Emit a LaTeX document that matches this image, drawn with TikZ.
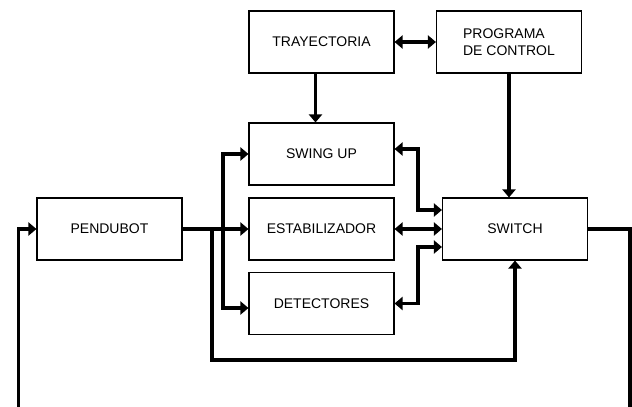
\documentclass[tikz,border=0pt]{standalone}
\usepackage{fontspec}
\setmainfont{Liberation Sans}
\usetikzlibrary{arrows.meta}

\tikzset{
  blk/.style={draw, line width=1.1pt, minimum width=145pt, minimum height=62pt,
    inner sep=0pt, font=\fontsize{14}{17}\selectfont},
  conn/.style={line width=3.2pt},
  tip/.tip={Triangle[length=8pt,width=13pt]},
}

\begin{document}
\begin{tikzpicture}[x=1pt, y=-1pt]
  \useasboundingbox (0,0) rectangle (632,407);

  % blocks
  \node[blk] (pend)   at (109.5,229)  {PENDUBOT};
  \node[blk] (tray)   at (321.5,42)   {TRAYECTORIA};
  \node[blk, align=left] (prog) at (509,42) {PROGRAMA\\DE CONTROL};
  \node[blk] (swing)  at (321.5,154)  {SWING UP\hspace{18pt}};
  \node[blk] (estab)  at (321.5,229)  {ESTABILIZADOR};
  \node[blk] (det)    at (321.5,303.5) {DETECTORES};
  \node[blk] (switch) at (515,229)    {SWITCH};

  % branch points, bus lines and switch inputs
  \coordinate (b1)   at (212,229);
  \coordinate (b2)   at (223,229);
  \coordinate (bus)  at (418,0);
  \coordinate (low)  at (0,360);
  \coordinate (lEnd) at (18.5,407);
  \coordinate (rEnd) at (630,407);
  \coordinate (swIn1) at ([yshift=19pt]switch.west);
  \coordinate (swIn3) at ([yshift=-18pt]switch.west);

  % signal paths
  \draw[conn, -tip] (pend.east) -- (estab.west);
  \draw[conn, -tip] (b1) -- (b1 |- low) -| (switch.south);
  \draw[conn, -tip] (b2) |- (swing.west);
  \draw[conn, -tip] (b2) |- ([yshift=-4.5pt]det.west);
  \draw[conn, -tip] ([xshift=-6pt]tray.south) -- ([xshift=-6pt]swing.north);
  \draw[conn, tip-tip] (tray.east) -- (prog.west);
  \draw[conn, -tip] (prog.south) -- (prog.south |- switch.north);
  \draw[conn, tip-tip] ([yshift=5pt]swing.east) -| (bus |- swIn1) -- (swIn1);
  \draw[conn, tip-tip] (estab.east) -- (switch.west);
  \draw[conn, tip-tip] (det.east) -| (bus |- swIn3) -- (swIn3);
  \draw[conn] (switch.east) -| (rEnd);
  \draw[conn, -tip] (lEnd) |- (pend.west);
\end{tikzpicture}
\end{document}
